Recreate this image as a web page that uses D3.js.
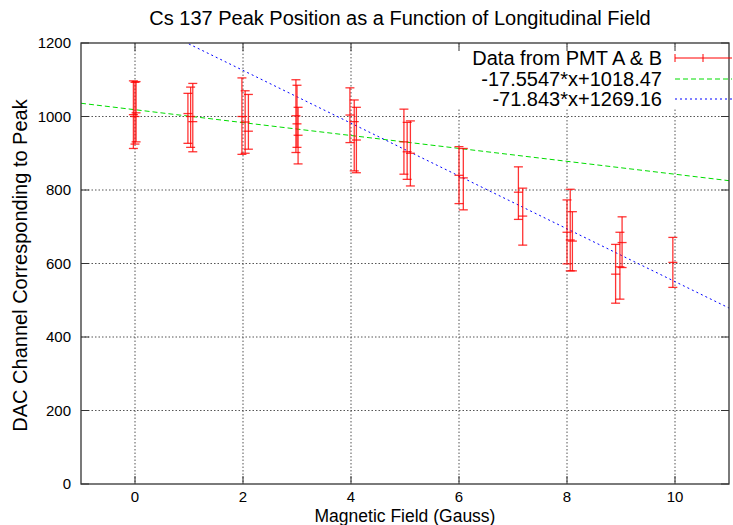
<html>
<head>
<meta charset="utf-8">
<script src="https://cdn.jsdelivr.net/npm/d3@7"></script>
<style>
    body { margin: 0; background: #fff; }
    text { font-family: "Liberation Sans", Arial, sans-serif; fill: #000; }
    .grid line { stroke: #555; stroke-dasharray: 1.5,2; stroke-width: 1; }
</style>
</head>
<body>
<svg id="chart" width="733" height="525"></svg>
<script>
    // readings from PMT A & B (field in gauss, peak channel, bar ends)
    var fieldVals = [-0.03, 0.0, 0.02, 0.98, 1.03, 1.07, 1.98, 2.04, 2.1, 2.98, 3.0, 3.02,
        3.98, 4.06, 4.1, 4.98, 5.04, 5.1, 6.0, 6.08, 7.1, 7.18, 8.0, 8.06, 8.1, 8.9, 8.98, 9.02, 9.96];
    var peakVals = [1005, 1000, 1010, 1008, 1000, 986, 1000, 985, 960, 1002, 980, 949,
        1004, 986, 936, 931, 904, 900, 840, 833, 794, 729, 685, 664, 661, 571, 591, 657, 603];
    var lowVals = [913, 925, 931, 927, 916, 904, 897, 900, 911, 902, 916, 871,
        929, 852, 847, 843, 829, 811, 763, 746, 720, 650, 599, 580, 580, 492, 503, 589, 535];
    var highVals = [1097, 1093, 1095, 1063, 1080, 1090, 1105, 1070, 1060, 1100, 1085, 1025,
        1078, 1045, 1025, 1020, 984, 988, 918, 913, 863, 805, 773, 802, 741, 652, 685, 727, 671];

    // fitted lines
    var fitSlopes = [-17.5547, -71.843];
    var fitIntercepts = [1018.47, 1269.16];
    var fitColors = ["#00dd00", "#0000ff"];
    var fitDash = ["5,3", "2,3"];
    var legendLabels = ["Data from PMT A & B", "-17.5547*x+1018.47", "-71.843*x+1269.16"];

    var xTicks = [0, 2, 4, 6, 8, 10];
    var yTicks = [0, 200, 400, 600, 800, 1000, 1200];

    function draw() {
        var svg = d3.select("#chart");
        var pl = 81, pr = 729, pt = 43, pb = 484;

        var x = d3.scaleLinear().domain([-1, 11]).range([pl, pr]);
        var y = d3.scaleLinear().domain([0, 1200]).range([pb, pt]);

        svg.append("text")
            .attr("x", 400).attr("y", 25)
            .attr("text-anchor", "middle")
            .style("font-size", "20px")
            .text("Cs 137 Peak Position as a Function of Longitudinal Field");

        // grid
        var grid = svg.append("g").attr("class", "grid");
        grid.selectAll(".gx").data(xTicks).enter().append("line")
            .attr("x1", d => x(d)).attr("x2", d => x(d))
            .attr("y1", pt).attr("y2", pb);
        grid.selectAll(".gy").data(yTicks.slice(1, -1)).enter().append("line")
            .attr("x1", pl).attr("x2", pr)
            .attr("y1", d => y(d)).attr("y2", d => y(d));

        svg.append("clipPath").attr("id", "plotclip")
            .append("rect").attr("x", pl).attr("y", pt)
            .attr("width", pr - pl).attr("height", pb - pt);

        // white box behind the key
        svg.append("rect").attr("x", 456).attr("y", 47)
            .attr("width", pr - 456).attr("height", 62).attr("fill", "#fff");

        var plot = svg.append("g").attr("clip-path", "url(#plotclip)");

        // fits
        fitSlopes.forEach(function(m, i) {
            var line = d3.line().x(d => x(d)).y(d => y(m * d + fitIntercepts[i]));
            plot.append("path")
                .attr("d", line([-1, 11]))
                .attr("fill", "none")
                .attr("stroke", fitColors[i])
                .attr("stroke-width", 1)
                .attr("stroke-dasharray", fitDash[i]);
        });

        // error bars
        var cap = 4.5;
        var bars = plot.selectAll(".bar").data(fieldVals).enter().append("g")
            .attr("stroke", "#ff0000").attr("stroke-width", 1.3).attr("stroke-opacity", 0.8);
        bars.append("line")
            .attr("x1", d => x(d)).attr("x2", d => x(d))
            .attr("y1", (d, i) => y(lowVals[i])).attr("y2", (d, i) => y(highVals[i]));
        [lowVals, highVals, peakVals].forEach(function(arr) {
            bars.append("line")
                .attr("x1", d => x(d) - cap).attr("x2", d => x(d) + cap)
                .attr("y1", (d, i) => y(arr[i])).attr("y2", (d, i) => y(arr[i]));
        });

        // frame with inward ticks
        var axisCol = "#333";
        svg.append("rect").attr("x", pl).attr("y", pt)
            .attr("width", pr - pl).attr("height", pb - pt)
            .attr("fill", "none").attr("stroke", axisCol).attr("stroke-width", 1.3);

        var ax = svg.append("g").attr("stroke", axisCol).attr("stroke-width", 1);
        xTicks.forEach(function(t) {
            ax.append("line").attr("x1", x(t)).attr("x2", x(t)).attr("y1", pb).attr("y2", pb - 8);
            ax.append("line").attr("x1", x(t)).attr("x2", x(t)).attr("y1", pt).attr("y2", pt + 8);
        });
        yTicks.forEach(function(t) {
            ax.append("line").attr("x1", pl).attr("x2", pl + 8).attr("y1", y(t)).attr("y2", y(t));
            ax.append("line").attr("x1", pr).attr("x2", pr - 8).attr("y1", y(t)).attr("y2", y(t));
        });

        svg.append("g").selectAll("text").data(xTicks).enter().append("text")
            .attr("x", d => x(d)).attr("y", 502)
            .attr("text-anchor", "middle")
            .style("font-size", "15px")
            .text(d => d);
        svg.append("g").selectAll("text").data(yTicks).enter().append("text")
            .attr("x", 71).attr("y", d => y(d) + 5)
            .attr("text-anchor", "end")
            .style("font-size", "15px")
            .text(d => d);

        svg.append("text")
            .attr("x", 405).attr("y", 521.5)
            .attr("text-anchor", "middle")
            .style("font-size", "17.5px")
            .text("Magnetic Field (Gauss)");
        svg.append("text")
            .attr("transform", "translate(27," + ((pt + pb) / 2 + 2) + ") rotate(-90)")
            .attr("text-anchor", "middle")
            .style("font-size", "20px")
            .text("DAC Channel Corresponding to Peak");

        // key
        var keyY = [58, 79, 99];
        var key = svg.append("g");
        key.selectAll("text").data(legendLabels).enter().append("text")
            .attr("x", 662).attr("y", (d, i) => keyY[i] + 7)
            .attr("text-anchor", "end")
            .style("font-size", "20px")
            .text(d => d);
        var kr = key.append("g").attr("stroke", "#ff0000").attr("stroke-width", 1);
        kr.append("line").attr("x1", 675).attr("x2", 732).attr("y1", keyY[0]).attr("y2", keyY[0]);
        kr.append("line").attr("x1", 675).attr("x2", 675).attr("y1", keyY[0] - 4).attr("y2", keyY[0] + 4);
        kr.append("line").attr("x1", 703).attr("x2", 703).attr("y1", keyY[0] - 4).attr("y2", keyY[0] + 4);
        fitColors.forEach(function(c, i) {
            key.append("line").attr("x1", 675).attr("x2", 732)
                .attr("y1", keyY[i + 1]).attr("y2", keyY[i + 1])
                .attr("stroke", c).attr("stroke-dasharray", fitDash[i]);
        });
    }
    draw();
</script>
</body>
</html>
